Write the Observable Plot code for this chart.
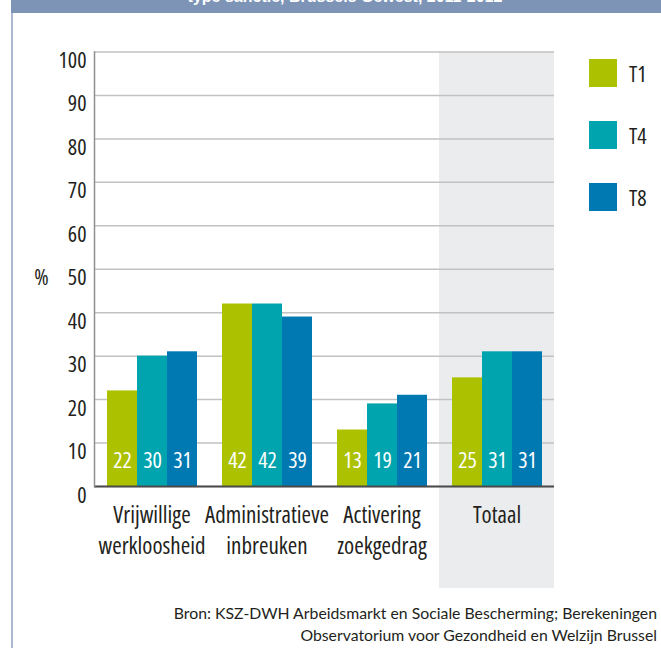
<!DOCTYPE html>
<html>
<head>
<meta charset="utf-8">
<script src="https://cdn.jsdelivr.net/npm/d3@7"></script>
<script src="https://cdn.jsdelivr.net/npm/@observablehq/plot@0.6"></script>
<style>
  html, body { margin: 0; padding: 0; background: #fff; }
  #wrap { position: relative; width: 661px; height: 648px; overflow: hidden; background: #fff; }
  #band { position: absolute; left: 11px; top: 0; width: 650px; height: 13px; background: #7d94b6; overflow: hidden; }
  #band span { position: absolute; left: 0; width: 668px; text-align: center; top: -12px; font: bold 16px "Liberation Sans", sans-serif; color: #fff; white-space: nowrap; }
  #border { position: absolute; left: 11px; top: 13px; width: 1.5px; height: 635px; background: #a9b9cf; }
  #chart { position: absolute; left: 0; top: 0; }
  #chart svg { font-stretch: condensed; }
  #legend { position: absolute; left: 589px; top: 59px; font-family: "Open Sans", sans-serif; font-stretch: condensed; font-size: 22px; color: #231f20; }
  .item { display: flex; align-items: center; height: 28px; margin-bottom: 34px; }
  .sw { width: 28px; height: 28px; margin-right: 12px; }
  #caption { position: absolute; right: 4px; top: 602px; text-align: right; font: 15.8px Lato, "Open Sans", sans-serif; line-height: 22px; color: #231f20; white-space: nowrap; }
</style>
</head>
<body>
<div id="wrap">
  <div id="band"><span>type sanctie, Brussels Gewest, 2011-2012</span></div>
  <div id="border"></div>
  <div id="chart"></div>
  <div id="legend"></div>
  <div id="caption">Bron: KSZ-DWH Arbeidsmarkt en Sociale Bescherming; Berekeningen<br>Observatorium voor Gezondheid en Welzijn Brussel</div>
</div>
<script>
const categories = ["Vrijwillige\nwerkloosheid", "Administratieve\ninbreuken", "Activering\nzoekgedrag", "Totaal"];
const series = ["T1", "T4", "T8"];
const colors = ["#acc100", "#00a4ae", "#0078b2"];
const valuesT1 = [22, 42, 13, 25];
const valuesT4 = [30, 42, 19, 31];
const valuesT8 = [31, 39, 21, 31];
const yTicks = [0, 10, 20, 30, 40, 50, 60, 70, 80, 90, 100];
const highlighted = ["Totaal"];

const seriesValues = [valuesT1, valuesT4, valuesT8];
const rows = [];
categories.forEach((c, ci) => {
  series.forEach((s, si) => rows.push({cat: c, series: s, value: seriesValues[si][ci]}));
});

const font = "'Open Sans', sans-serif";

const chart = Plot.plot({
  width: 661,
  height: 600,
  marginLeft: 92,
  marginRight: 105.5,
  marginTop: 51.5,
  marginBottom: 114,
  style: {fontFamily: font, color: "#231f20", background: "transparent", overflow: "visible"},
  fx: {domain: categories, padding: 0, axis: null},
  x: {domain: series, paddingInner: 0, paddingOuter: 0.375, axis: null},
  y: {domain: [0, 100], axis: null},
  color: {domain: series, range: colors},
  marks: [
    Plot.barY(highlighted, {fx: d => d, y1: 100, y2: -23.5, fill: "#ebeced"}),
    Plot.gridY(yTicks, {stroke: "#c2c2c2", strokeOpacity: 1, strokeWidth: 1.5}),
    Plot.barY(rows, {fx: "cat", x: "series", y: "value", fill: "series"}),
    Plot.text(rows, {fx: "cat", x: "series", text: "value", frameAnchor: "bottom", lineAnchor: "bottom", dy: -19, fill: "white", fontSize: 22}),
    Plot.ruleY([0], {stroke: "#4a4a4a", strokeWidth: 2}),
    Plot.frame({anchor: "left", facetAnchor: "left", stroke: "#8f8f8f", strokeWidth: 1.5}),
    Plot.axisY(yTicks, {tickSize: 0, tickPadding: 8, fontSize: 22, dy: 9, label: null, fill: "#231f20"}),
    Plot.text([50], {y: d => d, text: () => "%", frameAnchor: "left", facetAnchor: "left", dx: -53, dy: 9, textAnchor: "middle", fontSize: 22, fill: "#231f20"}),
    Plot.axisFx({anchor: "bottom", tickSize: 0, tickPadding: 14, fontSize: 23, lineHeight: 1.36, label: null, fill: "#231f20"})
  ]
});
document.getElementById("chart").appendChild(chart);

const legend = document.getElementById("legend");
series.forEach((s, i) => {
  const item = document.createElement("div");
  item.className = "item";
  const sw = document.createElement("div");
  sw.className = "sw";
  sw.style.background = colors[i];
  const lab = document.createElement("span");
  lab.textContent = s;
  item.appendChild(sw);
  item.appendChild(lab);
  legend.appendChild(item);
});
</script>
</body>
</html>
